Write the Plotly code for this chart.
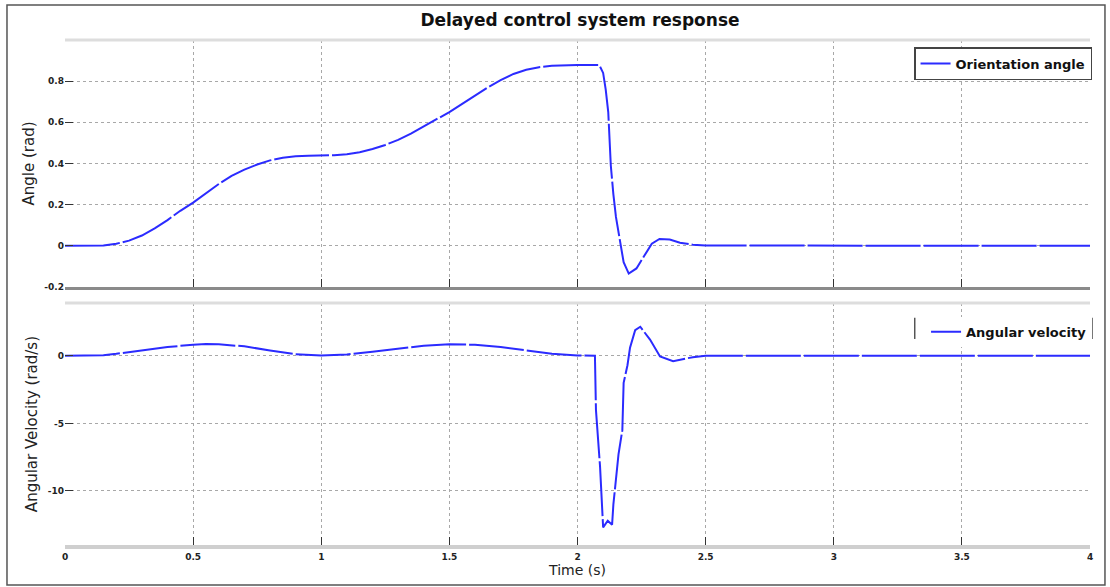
import plotly.graph_objects as go

# ---- data ----
t_angle = [0, 0.1, 0.15, 0.2, 0.25, 0.3, 0.35, 0.4, 0.45, 0.5, 0.55, 0.6, 0.65, 0.7, 0.75,
           0.8, 0.85, 0.9, 0.95, 1.0, 1.05, 1.1, 1.15, 1.2, 1.25, 1.3, 1.35, 1.4, 1.45, 1.5,
           1.55, 1.6, 1.65, 1.7, 1.75, 1.8, 1.85, 1.9, 1.95, 2.0, 2.05, 2.085, 2.1, 2.11,
           2.12, 2.125, 2.13, 2.14, 2.15, 2.165, 2.18, 2.2, 2.23, 2.26, 2.29, 2.32, 2.36,
           2.4, 2.45, 2.5, 3.0, 3.5, 4.0]
angle = [0, 0, 0.002, 0.01, 0.025, 0.05, 0.085, 0.125, 0.17, 0.21, 0.255, 0.3, 0.34, 0.37,
         0.395, 0.415, 0.428, 0.435, 0.437, 0.438, 0.44, 0.445, 0.455, 0.47, 0.49, 0.515,
         0.545, 0.58, 0.615, 0.65, 0.69, 0.73, 0.77, 0.805, 0.835, 0.855, 0.868, 0.875,
         0.878, 0.878, 0.878, 0.878, 0.84, 0.76, 0.65, 0.52, 0.39, 0.25, 0.14, 0.03, -0.08,
         -0.135, -0.11, -0.05, 0.01, 0.033, 0.03, 0.015, 0.005, 0.002, 0, 0, 0]

t_vel = [0, 0.1, 0.15, 0.2, 0.3, 0.4, 0.5, 0.55, 0.6, 0.7, 0.8, 0.9, 1.0, 1.1, 1.2, 1.3,
         1.4, 1.5, 1.6, 1.7, 1.8, 1.9, 2.0, 2.068, 2.072, 2.088, 2.096, 2.1, 2.118, 2.135,
         2.14, 2.15, 2.16, 2.175, 2.18, 2.195, 2.205, 2.225, 2.245, 2.283, 2.322, 2.373,
         2.45, 2.5, 3.0, 3.5, 4.0]
velocity = [0, 0, 0.05, 0.15, 0.4, 0.65, 0.82, 0.87, 0.85, 0.7, 0.4, 0.12, 0.02, 0.1, 0.3,
            0.55, 0.75, 0.85, 0.82, 0.65, 0.4, 0.15, 0.03, 0, -4, -8.2, -11.2, -12.7, -12.2,
            -12.5, -11.0, -9.0, -7.3, -5.5, -2.0, -0.7, 0.6, 1.9, 2.15, 1.2, -0.05, -0.4,
            -0.1, 0, 0, 0, 0]

x_ticks = [0, 0.5, 1, 1.5, 2, 2.5, 3, 3.5, 4]
x_tick_labels = ["0", "0.5", "1", "1.5", "2", "2.5", "3", "3.5", "4"]
angle_ticks = [-0.2, 0, 0.2, 0.4, 0.6, 0.8]
angle_tick_labels = ["-0.2", "0", "0.2", "0.4", "0.6", "0.8"]
vel_ticks = [-10, -5, 0]
vel_tick_labels = ["-10", "-5", "0"]

title_text = "Delayed control system response"

# ---- figure ----
BLUE = "#2b2bff"
FONT = "DejaVu Sans"
tickfont = dict(family=FONT, size=9, color="#222222", weight="bold")

fig = go.Figure()
fig.add_trace(go.Scatter(x=t_angle, y=angle, mode="lines", name="Orientation angle",
                         line=dict(color=BLUE, width=2, dash="55px,3px"),
                         xaxis="x", yaxis="y", legend="legend"))
fig.add_trace(go.Scatter(x=t_vel, y=velocity, mode="lines", name="Angular velocity",
                         line=dict(color=BLUE, width=2, dash="55px,3px"),
                         xaxis="x2", yaxis="y2", legend="legend2"))

grid = dict(showgrid=True, gridcolor="#a8a8a8", griddash="dot", gridwidth=1)

fig.update_layout(
    width=1110, height=587,
    margin=dict(l=65, r=20, t=40, b=42),
    paper_bgcolor="white", plot_bgcolor="white",
    font=dict(family=FONT, color="#222222"),
    title=dict(text=title_text, x=0.5225, xanchor="center", y=0.966, yanchor="middle",
               font=dict(family=FONT, size=17, color="#111111", weight="bold")),
    xaxis=dict(domain=[0, 1], range=[0, 4], anchor="y", tickvals=x_ticks,
               showticklabels=False, ticks="inside", ticklen=8, tickcolor="#333333",
               showline=True, linecolor="#8a8a8a", linewidth=3, zeroline=False, **grid),
    yaxis=dict(domain=[0.511, 1], range=[-0.2, 1.0], anchor="x", tickvals=angle_ticks,
               ticktext=angle_tick_labels, tickfont=tickfont, ticks="inside", ticklen=8,
               tickcolor="#333333", zeroline=False,
               title=dict(text="Angle (rad)", font=dict(family=FONT, size=15), standoff=6),
               **grid),
    xaxis2=dict(domain=[0, 1], range=[0, 4], anchor="y2", tickvals=x_ticks,
                ticktext=x_tick_labels, tickfont=tickfont, ticks="inside", ticklen=8,
                tickcolor="#333333", showline=True, linecolor="#cfcfcf", linewidth=4,
                zeroline=False,
                title=dict(text="Time (s)", font=dict(family=FONT, size=14), standoff=2),
                **grid),
    yaxis2=dict(domain=[0, 0.479], range=[-14, 3.9], anchor="x2", tickvals=vel_ticks,
                ticktext=vel_tick_labels, tickfont=tickfont, ticks="inside", ticklen=8,
                tickcolor="#333333", zeroline=False,
                title=dict(text="Angular Velocity (rad/s)", font=dict(family=FONT, size=15),
                           standoff=6),
                **grid),
    legend=dict(x=1.002, y=0.986, xanchor="right", yanchor="top", bgcolor="white",
                bordercolor="#444444", borderwidth=1.5,
                font=dict(family=FONT, size=13, color="#111111", weight="bold"),
                itemwidth=30, tracegroupgap=0),
    legend2=dict(x=1.002, y=0.452, xanchor="right", yanchor="top", bgcolor="white",
                 borderwidth=0,
                 font=dict(family=FONT, size=13, color="#111111", weight="bold"),
                 itemwidth=30),
    showlegend=True,
)

shapes = []
# light top lines of each panel
shapes.append(dict(type="line", xref="x domain", yref="y domain", x0=0, x1=1, y0=1, y1=1,
                   line=dict(color="#dddddd", width=3)))
shapes.append(dict(type="line", xref="x2 domain", yref="y2 domain", x0=0, x1=1, y0=1, y1=1,
                   line=dict(color="#dddddd", width=3)))
# side bars of the lower legend
shapes.append(dict(type="line", xref="paper", yref="paper", x0=0.829, x1=0.829, y0=0.408,
                   y1=0.45, line=dict(color="#555555", width=1.5)))
shapes.append(dict(type="line", xref="paper", yref="paper", x0=1.002, x1=1.002, y0=0.408,
                   y1=0.45, line=dict(color="#555555", width=1.5)))
# outer frame
shapes.append(dict(type="rect", xref="paper", yref="paper", x0=-0.0566, x1=1.0146,
                   y0=-0.0792, y1=1.0693, line=dict(color="#555555", width=1.5)))
fig.update_layout(shapes=shapes)

fig.write_html("out.html", config={"displayModeBar": False},
               post_script="document.body.style.margin='0';document.body.style.padding='0';")
